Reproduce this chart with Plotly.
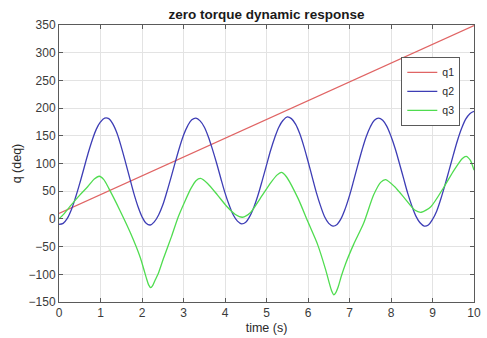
import plotly.graph_objects as go

# q1 (red) samples
t_q1 = [0, 0.5, 1, 1.5, 2, 2.5, 3, 3.5, 4, 4.5, 5, 5.5, 6, 6.5, 7, 7.5, 8, 8.5, 9, 9.5, 10]
q1 = [10, 27, 44, 61, 77, 95, 112, 129, 146, 163, 180, 197, 214, 231, 248, 264, 281, 298, 315, 332, 349]

# q2 (blue) samples every 0.1 s
t_q2 = [round(i * 0.1, 1) for i in range(101)]
q2 = [-10, -8, 1, 17, 39, 64, 91, 118, 142, 162, 175, 182,
      181, 171, 154, 130, 103, 75, 47, 23, 4, -8, -11,
      -5, 7, 25, 49, 75, 102, 128, 151, 168, 179, 182,
      177, 166, 148, 125, 100, 73, 47, 25, 7, -4, -9,
      -6, 5, 22, 44, 70, 97, 124, 147, 166, 178, 184,
      181, 171, 154, 131, 104, 76, 48, 24, 4, -8, -13,
      -10, 1, 19, 42, 69, 97, 124, 148, 166, 178, 182,
      178, 167, 149, 127, 101, 74, 47, 24, 5, -7, -13,
      -11, -1, 14, 36, 61, 88, 115, 141, 163, 180, 190, 194]

# q3 (green) samples
t_q3 = [0.0, 0.12, 0.26, 0.5, 0.69, 0.85, 0.97, 1.08, 1.2, 1.48, 1.72, 1.96, 2.04, 2.11,
        2.16, 2.21, 2.26, 2.32, 2.40, 2.51, 2.71, 2.87, 3.03, 3.18, 3.30, 3.41, 3.58,
        3.82, 4.05, 4.25, 4.42, 4.61, 4.85, 5.1, 5.25, 5.36, 5.47, 5.76, 5.99, 6.23,
        6.43, 6.51, 6.57, 6.62, 6.67, 6.73, 6.80, 6.91, 7.10, 7.34, 7.58, 7.75, 7.87,
        8.09, 8.33, 8.57, 8.73, 8.96, 9.28, 9.52, 9.72, 9.81, 9.91, 10.0]
q3 = [0, 9, 22, 43, 58, 72, 77, 71, 55, 13.5, -25, -70, -90, -108,
      -119, -124, -120, -110, -97, -73, -32, 3, 31, 55, 69, 73, 64,
      43, 22, 8, 3, 11, 37, 65, 79, 84, 77, 37, -4, -46,
      -93, -115, -130, -137, -133, -122, -104, -80, -46, -8, 43, 66, 71,
      58, 37, 16, 12, 22, 58, 88, 109, 113, 106, 88]

x_ticks = list(range(0, 11))
y_ticks = list(range(-150, 351, 50))

FONT = "Liberation Sans, Arial, sans-serif"

fig = go.Figure()
fig.add_trace(go.Scatter(x=t_q1, y=q1, mode="lines", name="q1",
                         line=dict(color="#e06464", width=1.2)))
fig.add_trace(go.Scatter(x=t_q2, y=q2, mode="lines", name="q2",
                         line=dict(color="#3d3db5", width=1.3, shape="spline")))
fig.add_trace(go.Scatter(x=t_q3, y=q3, mode="lines", name="q3",
                         line=dict(color="#4fdc4f", width=1.3, shape="spline", smoothing=0.7)))

axis_common = dict(
    showgrid=True, gridcolor="#e3e3e3", gridwidth=1,
    showline=True, linecolor="#5a5a5a", linewidth=1, mirror="ticks",
    ticks="inside", ticklen=4, tickcolor="#5a5a5a",
    tickfont=dict(family=FONT, size=12, color="#3a3a3a"),
    zeroline=False,
)

fig.update_layout(
    width=487, height=338,
    margin=dict(l=59, r=6, t=25, b=33),
    paper_bgcolor="white", plot_bgcolor="white",
    title=dict(text="<b>zero torque dynamic response</b>", x=0.5, xref="paper",
               y=0.958, yanchor="middle",
               font=dict(family=FONT, size=13.5, color="#1a1a1a")),
    xaxis=dict(range=[0, 10], tickvals=x_ticks,
               title=dict(text="time (s)", standoff=3,
                          font=dict(family=FONT, size=12.5, color="#2a2a2a")),
               **axis_common),
    yaxis=dict(range=[-150, 350], tickvals=y_ticks,
               title=dict(text="q (deq)", standoff=4,
                          font=dict(family=FONT, size=12.5, color="#2a2a2a")),
               **axis_common),
    legend=dict(x=0.967, y=0.885, xanchor="right", yanchor="top",
                bgcolor="white", bordercolor="#5a5a5a", borderwidth=1,
                font=dict(family=FONT, size=10.5, color="#2a2a2a"),
                itemwidth=30, tracegroupgap=0),
    showlegend=True,
)

fig.write_html("out.html")
